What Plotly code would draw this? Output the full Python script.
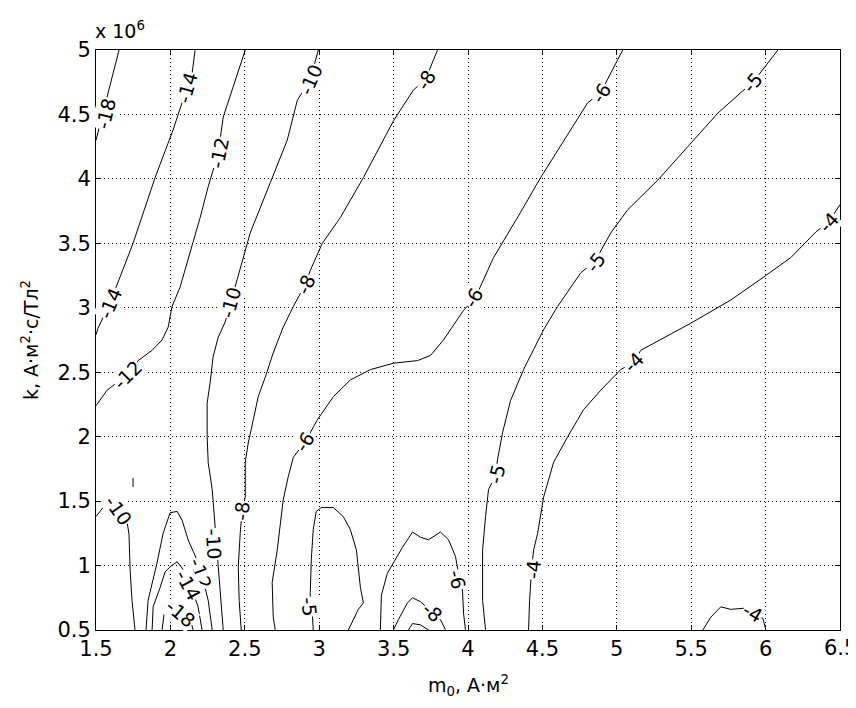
import plotly.graph_objects as go

# ---------------- data (x: m0, A·m^2 ; y: k in units of 1e6) ----------------
# contour level -18 (top-left)
c18_top_x = [1.655, 1.614, 1.574, 1.540, 1.513, 1.500]
c18_top_y = [5.00, 4.81, 4.635, 4.47, 4.36, 4.30]
# level -14 (top-left)
c14_top_x = [2.166, 2.146, 2.112, 2.018, 1.897, 1.816, 1.749, 1.662, 1.594, 1.513, 1.500]
c14_top_y = [5.00, 4.82, 4.71, 4.38, 4.01, 3.74, 3.50, 3.24, 3.04, 2.84, 2.79]
# level -12 (top)
c12_top_x = [2.503, 2.422, 2.355, 2.321, 2.254, 2.200, 2.133, 2.065, 2.011, 1.985, 1.944,
             1.877, 1.783, 1.709, 1.574, 1.513, 1.500]
c12_top_y = [5.00, 4.71, 4.48, 4.20, 3.94, 3.70, 3.43, 3.16, 3.01, 2.85, 2.75,
             2.67, 2.59, 2.48, 2.36, 2.26, 2.24]
# level -10 (main)
c10_main_x = [2.994, 2.940, 2.853, 2.785, 2.671, 2.536, 2.449, 2.402, 2.368, 2.321, 2.287,
              2.267, 2.247, 2.247, 2.254, 2.281, 2.301, 2.314, 2.334, 2.355]
c10_main_y = [5.00, 4.77, 4.61, 4.30, 3.97, 3.58, 3.22, 3.04, 2.89, 2.77, 2.62,
              2.42, 2.26, 2.00, 1.80, 1.59, 1.30, 1.04, 0.81, 0.50]
# level -10 (bottom-left)
c10_left_x = [1.500, 1.547, 1.648, 1.709, 1.722, 1.729, 1.742, 1.762]
c10_left_y = [1.38, 1.45, 1.43, 1.34, 1.24, 0.97, 0.73, 0.50]
c10_tick_x = [1.749, 1.749]
c10_tick_y = [1.68, 1.61]
# level -8 (main)
c8_main_x = [3.795, 3.714, 3.633, 3.499, 3.297, 3.142, 3.021, 2.940, 2.906, 2.826, 2.758,
             2.691, 2.637, 2.590, 2.557, 2.523, 2.503, 2.503, 2.482, 2.469, 2.456, 2.462, 2.476]
c8_main_y = [5.00, 4.77, 4.69, 4.45, 4.01, 3.70, 3.50, 3.29, 3.18, 3.01, 2.85,
             2.65, 2.46, 2.31, 2.13, 1.95, 1.80, 1.53, 1.42, 1.25, 0.99, 0.73, 0.50]
# level -6 (main)
c6_main_x = [5.040, 4.892, 4.804, 4.643, 4.488, 4.353, 4.172, 4.050, 3.970, 3.835, 3.748,
             3.660, 3.499, 3.344, 3.209, 3.095, 2.987, 2.906, 2.826, 2.792, 2.758, 2.718,
             2.684, 2.691, 2.705]
c6_main_y = [5.00, 4.67, 4.59, 4.30, 4.01, 3.74, 3.39, 3.08, 2.98, 2.75, 2.63,
             2.59, 2.57, 2.52, 2.44, 2.31, 2.13, 1.96, 1.84, 1.69, 1.51, 1.12,
             0.87, 0.60, 0.50]
# level -5 (main)
c5_main_x = [6.083, 5.915, 5.834, 5.679, 5.477, 5.275, 5.073, 4.959, 4.858, 4.757, 4.602,
             4.508, 4.373, 4.286, 4.232, 4.198, 4.185, 4.138, 4.118, 4.098, 4.098, 4.118]
c5_main_y = [5.00, 4.75, 4.67, 4.51, 4.25, 3.99, 3.76, 3.58, 3.37, 3.27, 3.01,
             2.83, 2.52, 2.28, 2.03, 1.82, 1.70, 1.59, 1.38, 1.12, 0.73, 0.50]
# level -4 (main)
c4_main_x = [6.500, 6.426, 6.339, 6.170, 5.989, 5.766, 5.497, 5.316, 5.161, 5.114, 5.026,
             4.892, 4.777, 4.670, 4.575, 4.508, 4.468, 4.441, 4.427, 4.414, 4.407]
c4_main_y = [3.80, 3.67, 3.59, 3.39, 3.24, 3.06, 2.88, 2.77, 2.67, 2.58, 2.52,
             2.36, 2.21, 2.00, 1.80, 1.53, 1.25, 1.12, 0.97, 0.73, 0.50]
# level -4 (small bump bottom-right)
c4_bump_x = [5.578, 5.632, 5.699, 5.766, 5.867, 5.915, 5.982, 6.002]
c4_bump_y = [0.50, 0.60, 0.68, 0.66, 0.67, 0.63, 0.59, 0.50]
# level -12, -14, -18 (humps near m0 = 2)
c12_hump_x = [1.836, 1.850, 1.910, 1.951, 1.998, 2.045, 2.079, 2.119, 2.180, 2.220, 2.254, 2.281]
c12_hump_y = [0.50, 0.73, 1.02, 1.25, 1.41, 1.42, 1.35, 1.20, 1.04, 0.89, 0.73, 0.50]
c14_hump_x = [1.877, 1.884, 1.931, 1.964, 1.998, 2.045, 2.085, 2.119, 2.153, 2.186, 2.213]
c14_hump_y = [0.50, 0.68, 0.83, 0.95, 0.99, 1.03, 0.97, 0.87, 0.79, 0.68, 0.50]
c18_hump_x = [1.944, 1.957, 1.998, 2.045, 2.085, 2.133, 2.153]
c18_hump_y = [0.50, 0.62, 0.69, 0.71, 0.66, 0.58, 0.50]
# level -5 (dome near m0 = 3)
c5_dome_x = [2.960, 2.954, 2.940, 2.940, 2.947, 2.960, 2.980, 3.014, 3.095, 3.162, 3.209,
             3.250, 3.277, 3.297, 3.263, 3.229, 3.196]
c5_dome_y = [0.50, 0.62, 0.68, 0.79, 1.05, 1.28, 1.42, 1.45, 1.45, 1.38, 1.28,
             1.12, 0.83, 0.71, 0.66, 0.58, 0.50]
# level -6 (hump near m0 = 3.7)
c6_hump_x = [3.411, 3.418, 3.458, 3.499, 3.559, 3.627, 3.680, 3.734, 3.815, 3.869, 3.916,
             3.936, 3.950, 3.963, 3.970, 3.983]
c6_hump_y = [0.50, 0.77, 0.94, 1.02, 1.14, 1.26, 1.22, 1.20, 1.26, 1.20, 1.07,
             0.94, 0.87, 0.81, 0.63, 0.50]
# level -8 and -10 (small humps near m0 = 3.7)
c8_hump_x = [3.499, 3.532, 3.593, 3.627, 3.680, 3.761, 3.815, 3.849]
c8_hump_y = [0.50, 0.58, 0.71, 0.75, 0.72, 0.64, 0.58, 0.50]
c10_hump_x = [3.600, 3.627, 3.680, 3.734]
c10_hump_y = [0.50, 0.55, 0.54, 0.50]

# contour labels
lab_x = [1.567, 2.112, 1.594, 2.328, 1.709, 2.940, 2.402, 2.294, 1.648, 3.714, 2.906,
         2.482, 4.892, 4.040, 2.900, 5.915, 4.858, 4.192, 2.935, 6.426, 5.114, 4.441,
         5.915, 3.930, 3.761, 2.200, 2.120, 2.065]
lab_y = [4.51, 4.705, 3.04, 4.20, 2.48, 4.77, 3.04, 1.17, 1.43, 4.77, 3.18,
         1.42, 4.67, 3.08, 1.96, 4.75, 3.355, 1.71, 0.68, 3.665, 2.58, 0.97,
         0.63, 0.89, 0.64, 0.94, 0.85, 0.63]
lab_t = ["-18", "-14", "-14", "-12", "-12", "-10", "-10", "-10", "-10", "-8", "-8",
         "-8", "-6", "-6", "-6", "-5", "-5", "-5", "-5", "-4", "-4", "-4",
         "-4", "-6", "-8", "-12", "-14", "-18"]

x_ticks = [1.5, 2, 2.5, 3, 3.5, 4, 4.5, 5, 5.5, 6, 6.5]
x_ticktext = ["1.5", "2", "2.5", "3", "3.5", "4", "4.5", "5", "5.5", "6", "6.5"]
y_ticks = [0.5, 1, 1.5, 2, 2.5, 3, 3.5, 4, 4.5, 5]
y_ticktext = ["0.5", "1", "1.5", "2", "2.5", "3", "3.5", "4", "4.5", "5"]

# ---------------- figure ----------------
lines = [
    (c18_top_x, c18_top_y), (c14_top_x, c14_top_y), (c12_top_x, c12_top_y),
    (c10_main_x, c10_main_y), (c10_left_x, c10_left_y), (c10_tick_x, c10_tick_y),
    (c8_main_x, c8_main_y), (c6_main_x, c6_main_y), (c5_main_x, c5_main_y),
    (c4_main_x, c4_main_y), (c4_bump_x, c4_bump_y),
    (c12_hump_x, c12_hump_y), (c14_hump_x, c14_hump_y), (c18_hump_x, c18_hump_y),
    (c5_dome_x, c5_dome_y), (c6_hump_x, c6_hump_y),
    (c8_hump_x, c8_hump_y), (c10_hump_x, c10_hump_y),
]

label_angles = [-76, -74, -67, -78, -45, -67, -74, 87, 55, -59, -65,
                -84, -57, -60, -57, -49, -53, -76, 84, -47, -45, -85,
                30, 78, 42, 70, 62, 40]

FONT = "DejaVu Sans"

fig = go.Figure()
for lx, ly in lines:
    fig.add_trace(go.Scatter(x=lx, y=ly, mode="lines",
                             line=dict(color="black", width=1),
                             showlegend=False, hoverinfo="skip"))

annotations = []
for xx, yy, tt, aa in zip(lab_x, lab_y, lab_t, label_angles):
    annotations.append(dict(x=xx, y=yy, xref="x", yref="y", text=tt,
                            showarrow=False, textangle=aa,
                            font=dict(family=FONT, size=19, color="black"),
                            bgcolor="white", borderpad=0))

# last x tick label sits on the window edge (clipped, as in the reference)
annotations.append(dict(x=x_ticks[-1], y=0, xref="x", yref="paper",
                        text=x_ticktext[-1], showarrow=False,
                        xanchor="center", yanchor="top", yshift=-4,
                        font=dict(family=FONT, size=21, color="black")))

annotations.append(dict(x=0, y=1, xref="paper", yref="paper",
                        text="x 10<sup>6</sup>", showarrow=False,
                        xanchor="left", yanchor="bottom", xshift=-3, yshift=6,
                        font=dict(family=FONT, size=19, color="black")))
annotations.append(dict(x=0.5, y=0, xref="paper", yref="paper",
                        text="m<sub>0</sub>, А·м<sup>2</sup>", showarrow=False,
                        xanchor="center", yanchor="middle", yshift=-55,
                        font=dict(family=FONT, size=19, color="black")))
annotations.append(dict(x=0, y=0.5, xref="paper", yref="paper",
                        text="k, А·м<sup>2</sup>·с/Тл<sup>2</sup>", showarrow=False,
                        textangle=-90, xanchor="center", yanchor="middle", xshift=-66,
                        font=dict(family=FONT, size=19, color="black")))

axis_common = dict(
    showline=True, linecolor="black", linewidth=1, mirror="ticks",
    ticks="inside", ticklen=5, tickcolor="black", tickwidth=1,
    showgrid=True, gridcolor="black", gridwidth=1, griddash="1px,3px",
    zeroline=False, tickfont=dict(family=FONT, size=21, color="black"),
)

# page body has an 8px default margin, so the figure is sized to fit the window
fig.update_layout(
    width=840, height=692,
    margin=dict(l=88, r=8, t=42, b=70),
    paper_bgcolor="white", plot_bgcolor="white",
    xaxis=dict(range=[1.5, 6.5], tickvals=x_ticks,
               ticktext=x_ticktext[:-1] + [""], **axis_common),
    yaxis=dict(range=[0.5, 5], tickvals=y_ticks, ticktext=y_ticktext, **axis_common),
    annotations=annotations,
    showlegend=False,
)

fig.write_html("out.html")
